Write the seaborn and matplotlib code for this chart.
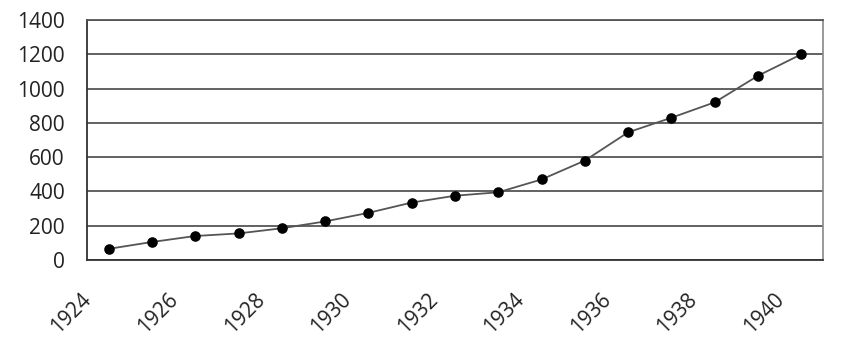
import matplotlib
matplotlib.use("Agg")
import matplotlib.pyplot as plt
import matplotlib.transforms as mtransforms
import seaborn as sns
import numpy as np

years = [1924, 1925, 1926, 1927, 1928, 1929, 1930, 1931, 1932, 1933,
         1934, 1935, 1936, 1937, 1938, 1939, 1940]
values = [65, 105, 140, 155, 185, 225, 275, 335, 375, 395,
          470, 580, 745, 830, 920, 1075, 1200]
label_years = [1924, 1926, 1928, 1930, 1932, 1934, 1936, 1938, 1940]
y_ticks = [0, 200, 400, 600, 800, 1000, 1200, 1400]

sns.set_theme(style="white")
plt.rcParams['font.family'] = ['Open Sans', 'DejaVu Sans']

fig = plt.figure(figsize=(8.42, 3.52), dpi=100)
ax = fig.add_axes([87/842, 1-260/352, (823-87)/842, 240/352])

sns.lineplot(x=years, y=values, ax=ax, color='#555555', linewidth=1.3, zorder=3)
sns.scatterplot(x=years, y=values, ax=ax, color='black', s=58, edgecolor='black',
                linewidth=0, zorder=4)

ax.set_xlim(years[0]-0.5, years[-1]+0.5)
ax.set_ylim(0, 1400)
ax.set_yticks(y_ticks)
ax.set_yticklabels([str(v) for v in y_ticks], fontsize=15, color='#222222')
ax.yaxis.grid(True, color='#555555', linewidth=1.3)
ax.set_axisbelow(True)
ax.tick_params(axis='y', length=0, pad=16)

ax.set_xticks(label_years)
ax.set_xticklabels([str(v) for v in label_years], rotation=45, ha='right',
                   fontsize=15, color='#222222')
ax.set_xticks(np.arange(years[0]-0.5, years[-1]+1.0, 1.0), minor=True)
ax.tick_params(axis='x', which='major', length=0, pad=21)
ax.tick_params(axis='x', which='minor', direction='in', length=6, width=1.1,
               color='#333333')
offset = mtransforms.ScaledTranslation(-13/100, 0, fig.dpi_scale_trans)
for lab in ax.get_xticklabels():
    lab.set_transform(lab.get_transform() + offset)

for side in ['left', 'bottom']:
    ax.spines[side].set_color('#333333')
    ax.spines[side].set_linewidth(1.3)
ax.spines['right'].set_color('#888888')
ax.spines['right'].set_linewidth(1.2)
ax.spines['top'].set_color('#555555')
ax.spines['top'].set_linewidth(1.3)

ax.set_xlabel('')
ax.set_ylabel('')
fig.savefig('out.png', dpi=100)
